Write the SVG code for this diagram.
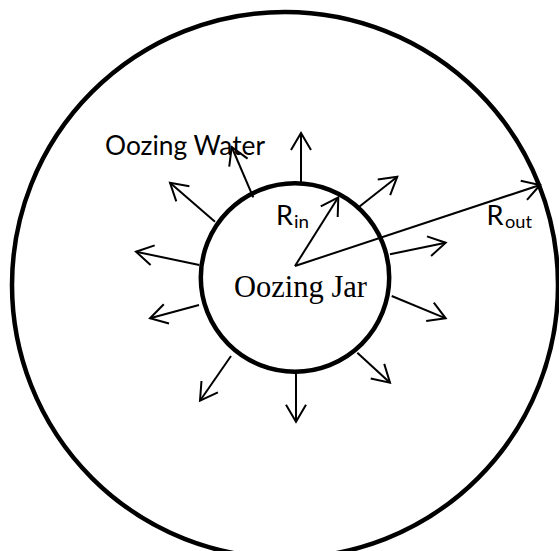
<svg xmlns="http://www.w3.org/2000/svg" width="559" height="551" viewBox="0 0 559 551">
<style>
.ring{fill:none;stroke:#000;stroke-width:4.5}
.arr{fill:none;stroke:#000;stroke-width:2;marker-end:url(#head)}
.lbl{font-family:Lato,"Open Sans","Liberation Sans",sans-serif;fill:#000}
.ser{font-family:"Liberation Serif","Times New Roman",serif;fill:#000}
</style>
<defs>
<marker id="head" markerUnits="userSpaceOnUse" markerWidth="24" markerHeight="24" viewBox="-20 -12 24 24" refX="0" refY="0" orient="auto">
<path d="M-17,-10 L0,0 L-17,10" fill="none" stroke="#000" stroke-width="2" stroke-linejoin="miter"/>
</marker>
</defs>
<g id="outer-region">
<circle class="ring" cx="285" cy="285" r="273"/>
</g>
<g id="oozing-jar">
<circle class="ring" cx="295" cy="277.5" r="94.2"/>
<text class="ser" x="234" y="297" font-size="31" textLength="133" lengthAdjust="spacingAndGlyphs">Oozing Jar</text>
</g>
<g id="label-oozing-water">
<text class="lbl" x="105" y="155" font-size="26" textLength="160" lengthAdjust="spacingAndGlyphs">Oozing Water</text>
</g>
<g id="label-rin">
<text class="lbl" x="276" y="225" font-size="26" textLength="17" lengthAdjust="spacingAndGlyphs">R</text>
<text class="lbl" x="294" y="228" font-size="18" textLength="15" lengthAdjust="spacingAndGlyphs">in</text>
</g>
<g id="label-rout">
<text class="lbl" x="486.5" y="225" font-size="26" textLength="17" lengthAdjust="spacingAndGlyphs">R</text>
<text class="lbl" x="505" y="228" font-size="18" textLength="27" lengthAdjust="spacingAndGlyphs">out</text>
</g>
<g id="connectors">
<line class="arr" x1="301" y1="182" x2="301" y2="133"/>
<line class="arr" x1="253.3" y1="197.3" x2="231.7" y2="147"/>
<line class="arr" x1="215" y1="221.7" x2="170" y2="182.7"/>
<line class="arr" x1="199.3" y1="265" x2="136" y2="251.7"/>
<line class="arr" x1="199" y1="305" x2="150" y2="318.3"/>
<line class="arr" x1="231" y1="356" x2="200" y2="400.7"/>
<line class="arr" x1="296" y1="373.3" x2="296" y2="421.7"/>
<line class="arr" x1="357.3" y1="352.7" x2="390" y2="382.7"/>
<line class="arr" x1="391.7" y1="296" x2="445.7" y2="318.3"/>
<line class="arr" x1="390" y1="254.3" x2="445.7" y2="242.7"/>
<line class="arr" x1="357.3" y1="208.3" x2="397.3" y2="176.7"/>
<line class="arr" x1="295" y1="266" x2="338.3" y2="197.3"/>
<line class="arr" x1="295" y1="266" x2="540" y2="185"/>
</g>
</svg>
